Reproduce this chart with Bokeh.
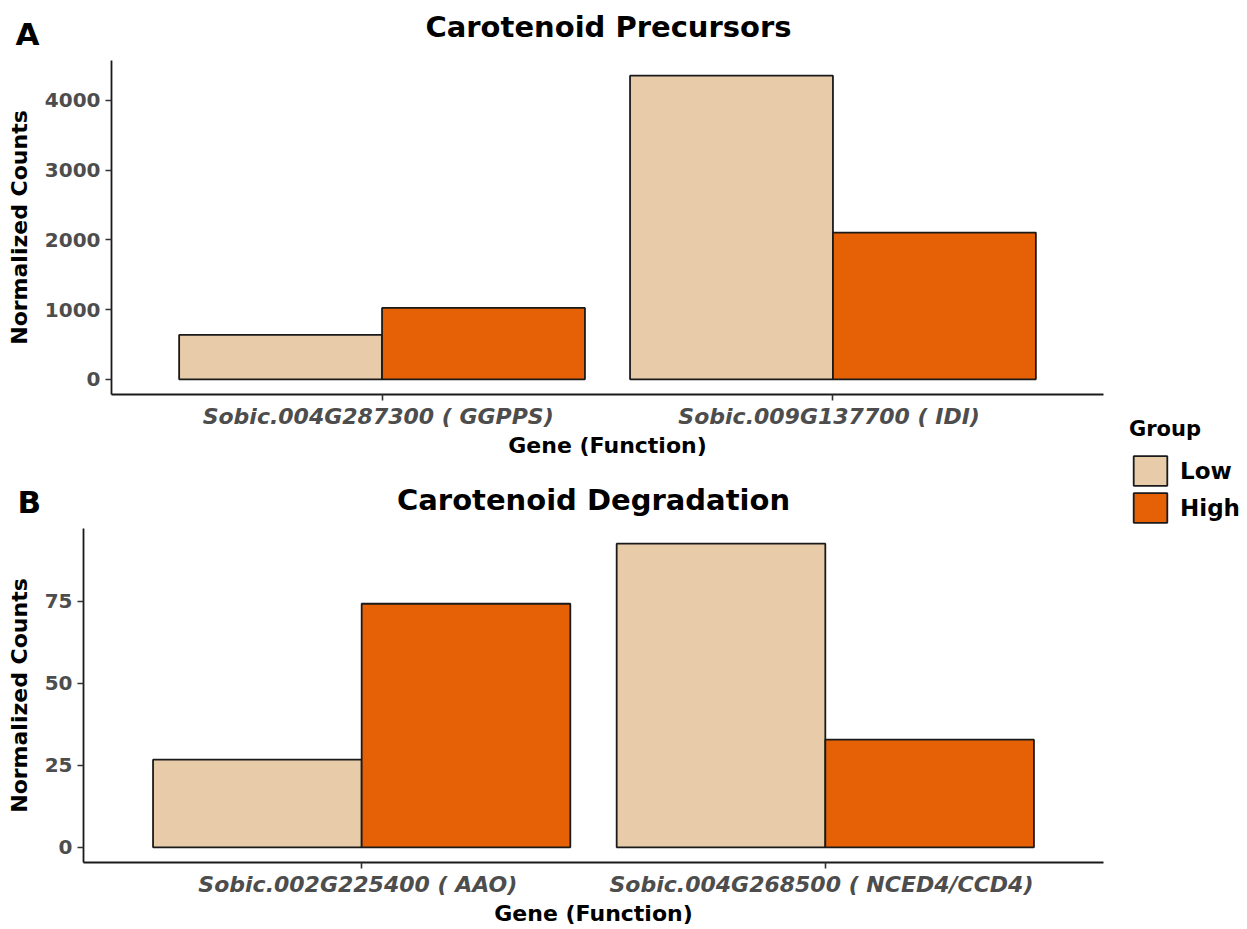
from bokeh.plotting import figure
from bokeh.models import FactorRange, Range1d, ColumnDataSource, Label, Legend, LegendItem
from bokeh.transform import dodge
from bokeh.layouts import column, row
from bokeh.embed import file_html
from bokeh.resources import INLINE

# ---------------- data ----------------
groups = ["Low", "High"]
group_colors = ["#E8CBA8", "#E66006"]

title_a = "Carotenoid Precursors"
genes_a = ["Sobic.004G287300  ( GGPPS)", "Sobic.009G137700  ( IDI)"]
low_a = [636, 4352]
high_a = [1023, 2103]
ticks_a = [0, 1000, 2000, 3000, 4000]

title_b = "Carotenoid Degradation"
genes_b = ["Sobic.002G225400  ( AAO)", "Sobic.004G268500  ( NCED4/CCD4)"]
low_b = [26.7, 92.5]
high_b = [74.2, 32.8]
ticks_b = [0, 25, 50, 75]

FONT = "DejaVu Sans"
TOTAL_W = 1110


def make_head(tag, title, height, tag_x, tag_y, title_x, title_y):
    """Strip above a panel holding its tag letter and its title."""
    h = figure(width=TOTAL_W, height=height, x_range=Range1d(0, 1), y_range=Range1d(0, 1),
               min_border=0, output_backend="svg", toolbar_location=None,
               x_axis_location=None, y_axis_location=None)
    if "frame_align" in h.properties():
        h.frame_align = False
    h.outline_line_color = None
    h.xgrid.visible = False
    h.ygrid.visible = False
    h.add_layout(Label(x=tag_x, y=tag_y, x_units="screen", y_units="screen", text=tag,
                       text_font=FONT, text_font_style="bold", text_font_size="31px",
                       text_color="black", text_baseline="alphabetic", text_align="left"))
    h.add_layout(Label(x=title_x, y=title_y, x_units="screen", y_units="screen", text=title,
                       text_font=FONT, text_font_style="bold", text_font_size="29px",
                       text_color="black", text_baseline="alphabetic", text_align="center"))
    return h


def make_panel(genes, low, high, ticks, b_left, f_width, b_bottom):
    ymax = max(max(low), max(high))
    p = figure(
        x_range=FactorRange(factors=genes, range_padding=0.1),
        y_range=Range1d(-0.05 * ymax, 1.05 * ymax),
        frame_width=f_width, frame_height=334,
        min_border_left=b_left, min_border_right=TOTAL_W - b_left - f_width,
        min_border_top=0, min_border_bottom=b_bottom,
        output_backend="svg", toolbar_location=None, title=None,
        x_axis_label="Gene (Function)", y_axis_label="Normalized Counts",
    )
    if "frame_align" in p.properties():
        p.frame_align = False
    p.outline_line_color = None
    p.xgrid.grid_line_color = None
    p.ygrid.grid_line_color = None

    src = ColumnDataSource(dict(gene=genes, low=low, high=high))
    p.vbar(x=dodge("gene", -0.225, range=p.x_range), top="low", bottom=0, width=0.45,
           source=src, fill_color=group_colors[0], line_color="#1a1a1a", line_width=1.8)
    p.vbar(x=dodge("gene", 0.225, range=p.x_range), top="high", bottom=0, width=0.45,
           source=src, fill_color=group_colors[1], line_color="#1a1a1a", line_width=1.8)

    for ax in (p.xaxis[0], p.yaxis[0]):
        ax.axis_line_color = "#1a1a1a"
        ax.axis_line_width = 1.8
        ax.major_tick_line_color = "#333333"
        ax.major_tick_line_width = 1.6
        ax.major_tick_out = 6
        ax.major_tick_in = 0
        ax.minor_tick_line_color = None
        ax.major_label_text_color = "#4D4D4D"
        ax.major_label_text_font = FONT
        ax.axis_label_text_font = FONT
        ax.axis_label_text_font_style = "bold"
        ax.axis_label_text_font_size = "22px"
        ax.axis_label_text_color = "black"

    p.xaxis.major_label_text_font_style = "bold italic"
    p.xaxis.major_label_text_font_size = "22px"
    p.xaxis.major_label_standoff = 3
    p.xaxis.axis_label_standoff = 1

    p.yaxis.ticker = ticks
    p.yaxis.major_label_text_font_style = "bold"
    p.yaxis.major_label_text_font_size = "20px"
    p.yaxis.major_label_standoff = 5
    p.yaxis.axis_label_standoff = 10
    return p


head_a = make_head("A", title_a, 60, 15, 27, 608, 33.7)
pa = make_panel(genes_a, low_a, high_a, ticks_a, 111, 992, 71)
head_b = make_head("B", title_b, 63, 17, 26.7, 593, 28.3)
pb = make_panel(genes_b, low_b, high_b, ticks_b, 83, 1020, 67)

# ---------------- legend ----------------
pl = figure(width=137, height=929, x_range=Range1d(0, 1), y_range=Range1d(0, 1),
            min_border=0, output_backend="svg", toolbar_location=None,
            x_axis_location=None, y_axis_location=None)
if "frame_align" in pl.properties():
    pl.frame_align = False
pl.outline_line_color = None
pl.xgrid.visible = False
pl.ygrid.visible = False
items = []
for g, c in zip(groups, group_colors):
    # legend proxy: a bar with no finite height, so only its key swatch is drawn
    r = pl.vbar(x=[0.5], top=[float("nan")], bottom=[0], width=0.5, fill_color=c,
                line_color="#1a1a1a", line_width=1.8)
    items.append(LegendItem(label=g, renderers=[r]))
legend = Legend(items=items, location=(19, 403), title="Group",
                title_text_font=FONT, title_text_font_style="bold", title_text_font_size="21px",
                title_text_color="black", title_standoff=11,
                label_text_font=FONT, label_text_font_style="bold", label_text_font_size="23px",
                label_text_color="black", label_standoff=9,
                glyph_width=42, glyph_height=37, spacing=0, padding=5, margin=0,
                border_line_color=None, background_fill_alpha=0)
pl.add_layout(legend)

layout = row(column(row(head_a), row(pa), row(head_b), row(pb)), pl)
open("out.html", "w").write(file_html(layout, INLINE))
